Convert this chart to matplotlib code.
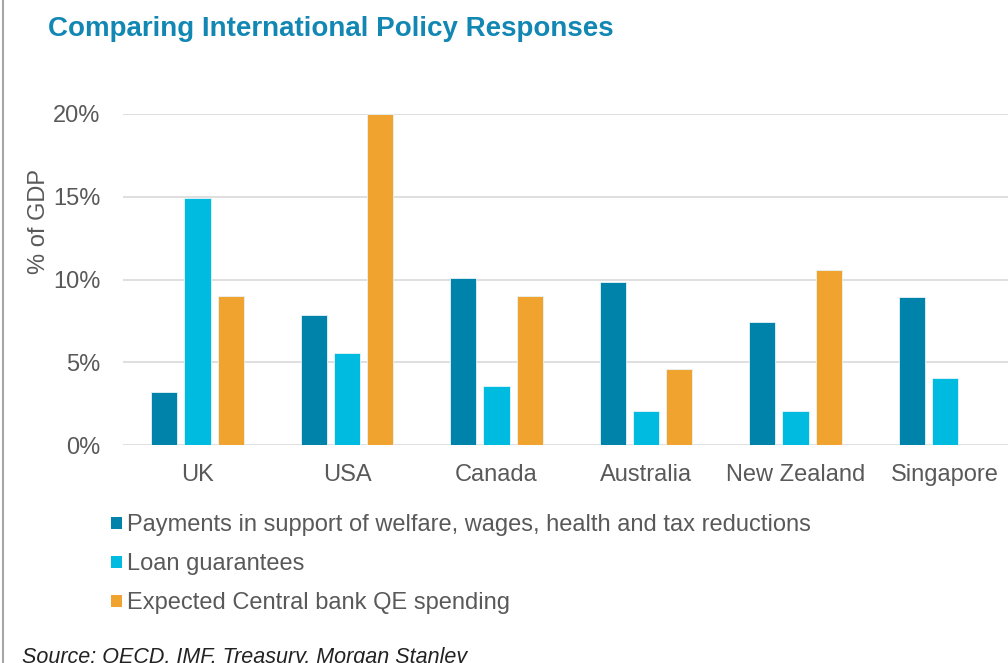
import numpy as np
import matplotlib.pyplot as plt
from matplotlib.patches import Patch
from matplotlib.lines import Line2D

plt.rcParams['font.family'] = ['Liberation Sans', 'DejaVu Sans']

countries = ['UK', 'USA', 'Canada', 'Australia', 'New Zealand', 'Singapore']
payments = [3.2, 7.85, 10.1, 9.85, 7.45, 8.95]
loans = [14.9, 5.55, 3.55, 2.05, 2.05, 4.05]
qe = [9.0, 20.0, 9.0, 4.6, 10.6, 0]
series_names = ['Payments in support of welfare, wages, health and tax reductions',
                'Loan guarantees',
                'Expected Central bank QE spending']
colors = ['#0083AB', '#00BBE0', '#F0A32E']

fig = plt.figure(figsize=(10.08, 6.63), dpi=100)
ax = fig.add_axes([122.75 / 1008, 218 / 663, 897 / 1008, 331 / 663])

x = np.arange(len(countries))
w = 0.174
step = 0.221
for i, vals in enumerate([payments, loans, qe]):
    ax.bar(x + (i - 1) * step, vals, width=w, color=colors[i],
           edgecolor='#E6F4F8', linewidth=0.6, zorder=3)

ax.set_xlim(-0.5, len(countries) - 0.5)
ax.set_ylim(0, 20)
ax.set_yticks([0, 5, 10, 15, 20])
ax.set_yticklabels(['0%', '5%', '10%', '15%', '20%'])
ax.set_xticks(x)
ax.set_xticklabels(countries)
ax.tick_params(axis='both', length=0, labelsize=17, labelcolor='#595959')
ax.tick_params(axis='x', pad=14)
ax.tick_params(axis='y', pad=16)
ax.grid(axis='y', color='#D9D9D9', linewidth=1.2, zorder=0)
for s in ax.spines.values():
    s.set_visible(False)
ax.set_ylabel('% of GDP', fontsize=17, color='#595959')
ax.yaxis.set_label_coords(-73 / 897, (445 - 222) / 331)

fig.text(48 / 1008, 1 - 29 / 663, 'Comparing International Policy Responses',
         fontsize=20, fontweight='bold', color='#1287B3', va='center')

handles = [Patch(facecolor=c, edgecolor='none') for c in colors]
fig.legend(handles, series_names, loc='upper left',
           bbox_to_anchor=(102 / 1008, 1 - 505 / 663), frameon=False,
           fontsize=17, labelcolor='#595959', handlelength=0.45, handleheight=0.45,
           handletextpad=0.2, labelspacing=0.72, borderaxespad=0)

fig.text(22 / 1008, 1 - 657 / 663, 'Source: OECD, IMF, Treasury, Morgan Stanley',
         fontsize=15.5, style='italic', color='#222222', va='center')

fig.add_artist(Line2D([3 / 1008, 3 / 1008], [0, 1], color='#A6A6A6', linewidth=1.5,
                      transform=fig.transFigure))

fig.savefig('out.png', dpi=100)
